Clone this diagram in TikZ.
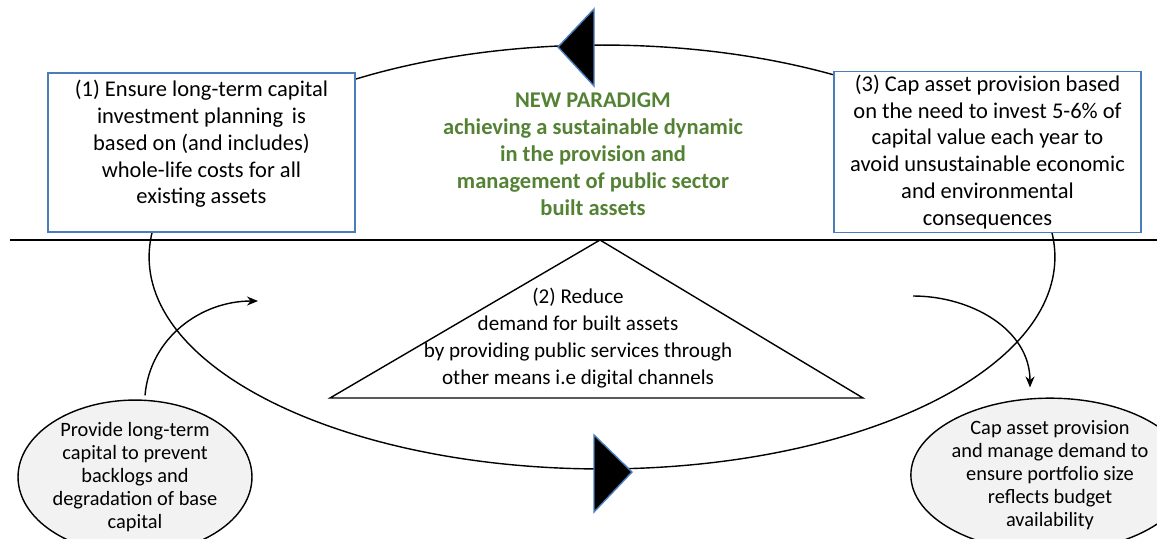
\documentclass[tikz,border=0pt]{standalone}
\usepackage{fontspec}
\setmainfont{Carlito}
\usetikzlibrary{shapes.geometric, arrows.meta, positioning}
\definecolor{boxblue}{RGB}{74,126,187}
\definecolor{paragreen}{RGB}{84,130,53}
\definecolor{ovalgray}{RGB}{242,242,242}

\begin{document}
\begin{tikzpicture}[
    x=0.02cm, y=-0.02cm,
    aimbox/.style={draw=boxblue, fill=white, thick, minimum width=6.14cm, minimum height=3.18cm, align=center, font=\fontsize{12.8}{15.3}\selectfont, inner sep=2pt},
    oval/.style={draw, ellipse, fill=ovalgray, thick, inner sep=0pt, align=center, font=\fontsize{11.6}{13}\selectfont},
    headtri/.style={draw=boxblue, fill=black, thick, line join=miter},
    arr/.style={-{Stealth[length=2.2mm, width=1.8mm]}, thick},
]
\useasboundingbox (0,0) rectangle (1157,538);

% Cycle
\node[draw, ellipse, thick, minimum width=18.12cm, minimum height=8.48cm, inner sep=0pt] (cycle) at (602,257) {};
\filldraw[headtri] (558,47) -- (594,9) -- (594,86) -- cycle;
\filldraw[headtri] (632,472) -- (594,435) -- (594,512) -- cycle;

% Divider
\coordinate (divl) at (10,240);
\coordinate (divr) at (1157,240);
\draw[thick] (divl) -- (divr);

% Paradigm
\node[font=\bfseries\fontsize{12.8}{15.3}\selectfont, text=paragreen, align=center] (para) at (593,154) {NEW PARADIGM\\achieving a sustainable dynamic\\in the provision and\\management of public sector\\built assets};

% Aims
\node[aimbox, text depth=0.42cm] (ensure) at (201.5,152.5) {(1) Ensure long-term capital\\investment planning\, is\\based on (and includes)\\whole-life costs for all\\existing assets};
\node[aimbox] (capaim) at (987.5,152) {(3) Cap asset provision based\\on the need to invest 5-6\% of\\capital value each year to\\avoid unsustainable economic\\and environmental\\consequences};

% Reduce demand
\coordinate (apex) at (600,240);
\coordinate (basel) at (330,398);
\coordinate (baser) at (863,398);
\draw[thick] (apex) -- (baser) -- (basel) -- cycle;
\node[align=center, font=\fontsize{12}{15.3}\selectfont] (reduce) at (578,338) {(2) Reduce\\demand for built assets\\by providing public services through\\other means i.e digital channels};

% Outcomes
\node[oval, minimum width=4.68cm, minimum height=2.8cm] (provide) at (135,477) {Provide long-term\\capital to prevent\\backlogs and\\degradation of base\\capital};
\node[oval, minimum width=4.7cm, minimum height=2.68cm] (capout) at (1050,475) {Cap asset provision\\and manage demand to\\ensure portfolio size\\reflects budget\\availability};

% Connections
\coordinate (provend) at (258,301);
\coordinate (capstart) at (913,296);
\draw[arr] (provide.north) ++(10,-4) to[out=85, in=180] (provend);
\draw[arr] (capstart) to[out=0, in=90] ([xshift=-0.4cm, yshift=0.2cm]capout.north);
\end{tikzpicture}
\end{document}
